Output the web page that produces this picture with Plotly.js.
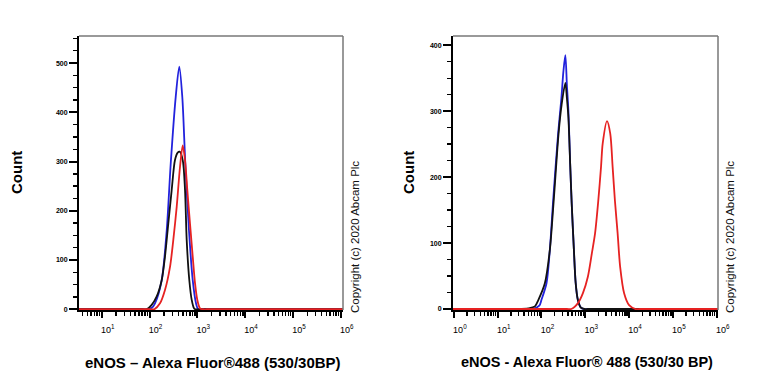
<!DOCTYPE html>
<html>
<head>
<meta charset="utf-8">
<script src="https://cdn.plot.ly/plotly-3.0.1.min.js"></script>
<style>html,body{margin:0;padding:0;background:#fff;}#chart{width:768px;height:384px;}</style>
</head>
<body>
<div id="chart"></div>
<script>
// ---- Left panel data (log10 intensity, count) ----
const p1BlueLog   = [0.5, 1.85, 1.95, 2.05, 2.115, 2.255, 2.36, 2.444, 2.548, 2.623, 2.686, 2.749, 2.826, 2.904, 2.973, 3.02, 3.1, 6.05];
const p1BlueCount = [0,   0,    0,    3,    12,    59,    160,  296,   431,   493,   431,   296,   160,   59,    12,    0,    0,   0];
const p1BlackLog   = [0.5, 1.85, 1.94, 2.046, 2.151, 2.255, 2.324, 2.393, 2.464, 2.533, 2.59, 2.63, 2.695, 2.743, 2.778, 2.833, 2.883, 2.931, 2.96, 3.05, 6.05];
const p1BlackCount = [0,   0,    0,    9,     26,    59,    107,   174,   242,   303,   318,  320,  303,   242,   141,   59,    19,    2,     0,    0,    0];
const p1RedLog   = [0.5, 2.0, 2.1, 2.22, 2.324, 2.429, 2.498, 2.569, 2.638, 2.695, 2.743, 2.791, 2.847, 2.904, 2.952, 3.0, 3.056, 3.126, 3.2, 6.05];
const p1RedCount = [0,   0,   0,   12,   39,    86,    141,   208,   289,   333,   303,   242,   174,   107,   53,    19,  2,     0,     0,   0];

// ---- Right panel data ----
const p2BlueLog   = [-0.02, 1.7, 1.8, 1.95, 2.0, 2.115, 2.19, 2.267, 2.38, 2.455, 2.5, 2.545, 2.58, 2.615, 2.655, 2.69, 2.74, 2.78, 2.83, 2.9, 2.97, 3.05, 6.03];
const p2BlueCount = [0,     0,   0,   5,    14,  39,    89,   165,   266,  320,   360, 385,   340,  300,   220,   160,  90,   40,   14,   2,   0,    0,    0];
const p2BlackLog   = [-0.02, 1.35, 1.45, 1.7, 1.85, 1.93, 2.077, 2.19, 2.28, 2.39, 2.46, 2.545, 2.58, 2.615, 2.655, 2.69, 2.74, 2.78, 2.83, 2.9, 2.98, 3.06, 6.03];
const p2BlackCount = [0,     0,    0,    1,   4,    14,   39,    89,   165,  266,  310,  343,   320,  290,   220,   160,  90,   40,   14,   2,   0,    0,    0];
const p2RedLog   = [-0.02, 2.58, 2.68, 2.833, 2.946, 3.059, 3.149, 3.224, 3.298, 3.36, 3.398, 3.496, 3.57, 3.624, 3.676, 3.738, 3.796, 3.887, 4.0, 4.15, 4.25, 6.03];
const p2RedCount = [0,     0,    0,    9,     24,    49,    84,    115,   165,   216,  251,   285,   266,  216,   165,   115,   64,    24,    6,   0,    0,    0];

// ---- Tick labels ----
const p1Decades = [1, 2, 3, 4, 5, 6];
const p2Decades = [0, 1, 2, 3, 4, 5, 6];
const decadeLabel = d => '10<sup>' + d + '</sup>';

const toLin = arr => arr.map(v => Math.pow(10, v));
const BLUE = '#2222dd', BLACK = '#111111', RED = '#e62222';

function tr(logs, counts, color, xa, ya) {
  return {x: toLin(logs), y: counts, type: 'scatter', mode: 'lines',
    line: {color: color, width: 1.8, shape: 'spline', smoothing: 0.8},
    xaxis: xa, yaxis: ya, hoverinfo: 'skip', showlegend: false};
}

const data = [
  tr(p1BlueLog, p1BlueCount, BLUE, 'x', 'y'),
  tr(p1BlackLog, p1BlackCount, BLACK, 'x', 'y'),
  tr(p1RedLog, p1RedCount, RED, 'x', 'y'),
  tr(p2BlueLog, p2BlueCount, BLUE, 'x2', 'y2'),
  tr(p2BlackLog, p2BlackCount, BLACK, 'x2', 'y2'),
  tr(p2RedLog, p2RedCount, RED, 'x2', 'y2')
];

// minor log tick positions (2..9 within each decade)
function minorVals(decs) {
  const out = [];
  for (let d = Math.min(...decs) - 1; d <= Math.max(...decs); d++)
    for (let k = 2; k <= 9; k++) out.push(k * Math.pow(10, d));
  return out;
}

const FONT = 'Liberation Sans, Arial, sans-serif';
function xAxis(domain, range, decs, anchor) {
  return {type: 'log', domain: domain, range: range, anchor: anchor, showgrid: false, zeroline: false,
    showline: true, linecolor: '#000', linewidth: 2, layer: 'below traces',
    tickmode: 'array', tickvals: decs.map(d => Math.pow(10, d)), ticktext: decs.map(decadeLabel),
    ticks: 'outside', ticklen: 6, tickwidth: 2, tickcolor: '#000',
    ticklabelshift: 6, ticklabelstandoff: 4,
    tickfont: {family: FONT, size: 9, color: '#000'},
    minor: {tickmode: 'array', tickvals: minorVals(decs), ticks: 'outside', ticklen: 4, tickwidth: 1.4, tickcolor: '#000', showgrid: false}};
}
function yAxis(range, anchor) {
  return {domain: [1 - 310/384, 1 - 36/384], range: range, anchor: anchor, showgrid: false, zeroline: false,
    showline: true, linecolor: '#000', linewidth: 2,
    tickmode: 'linear', tick0: 0, dtick: 100,
    ticks: 'outside', ticklen: 8, tickwidth: 2, tickcolor: '#000',
    tickfont: {family: FONT, size: 7, color: '#000', weight: 'bold'},
    minor: {dtick: 25, ticks: 'outside', ticklen: 4, tickwidth: 1.4, tickcolor: '#000', showgrid: false}};
}

const ann = (x, y, text, opts) => Object.assign({xref: 'paper', yref: 'paper', x: x/768, y: 1 - y/384,
  text: text, showarrow: false, xanchor: 'center', yanchor: 'middle'}, opts);

const layout = {
  width: 768, height: 384, margin: {l: 0, r: 0, t: 0, b: 0},
  paper_bgcolor: '#fff', plot_bgcolor: 'rgba(0,0,0,0)', showlegend: false,
  xaxis: xAxis([79/768, 343/768], [0.525, 6.048], p1Decades, 'y'),
  yaxis: yAxis([-1.5, 555], 'x'),
  xaxis2: xAxis([453/768, 718/768], [-0.02, 6.03], p2Decades, 'y2'),
  yaxis2: yAxis([-1.5, 414], 'x2'),
  shapes: [
    {type: 'line', xref: 'x domain', yref: 'y domain', x0: 0, x1: 1, y0: 1, y1: 1, line: {color: '#777', width: 1.5}},
    {type: 'line', xref: 'x domain', yref: 'y domain', x0: 1, x1: 1, y0: 0, y1: 1, line: {color: '#777', width: 1.5}},
    {type: 'line', xref: 'x2 domain', yref: 'y2 domain', x0: 0, x1: 1, y0: 1, y1: 1, line: {color: '#777', width: 1.5}},
    {type: 'line', xref: 'x2 domain', yref: 'y2 domain', x0: 1, x1: 1, y0: 0, y1: 1, line: {color: '#777', width: 1.5}}
  ],
  annotations: [
    ann(17, 173, 'Count', {textangle: -90, font: {family: FONT, size: 15, color: '#000', weight: 'bold'}}),
    ann(409, 173, 'Count', {textangle: -90, font: {family: FONT, size: 15, color: '#000', weight: 'bold'}}),
    ann(213, 362, 'eNOS – Alexa Fluor®488 (530/30BP)', {font: {family: FONT, size: 15, color: '#000', weight: 'bold'}}),
    ann(587, 362, 'eNOS - Alexa Fluor® 488 (530/30 BP)', {font: {family: FONT, size: 14.5, color: '#000', weight: 'bold'}}),
    ann(355, 237, 'Copyright (c) 2020 Abcam Plc', {textangle: -90, font: {family: FONT, size: 11.5, color: '#111'}}),
    ann(730, 237, 'Copyright (c) 2020 Abcam Plc', {textangle: -90, font: {family: FONT, size: 11.5, color: '#111'}})
  ]
};

Plotly.newPlot('chart', data, layout, {staticPlot: true, displayModeBar: false});
</script>
</body>
</html>
